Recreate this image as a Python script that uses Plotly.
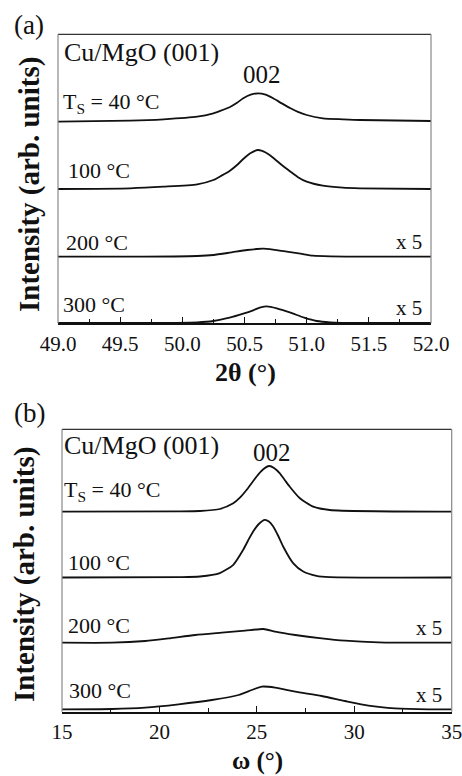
import plotly.graph_objects as go

W, H = 462, 776

# ---------------- data: panel (a) 2theta scans ----------------
a_labels = ["T<sub>S</sub> = 40 °C", "100 °C", "200 °C", "300 °C"]
a_offsets = [201.6, 134.3, 66.6, 0.3]
a_x40 = [49.0, 49.58, 49.85, 50.12, 50.25, 50.31, 50.38, 50.44, 50.49, 50.55, 50.61, 50.67, 50.73, 50.80, 50.87, 50.93, 51.00, 51.13, 51.29, 51.43, 52.0]
a_y40 = [0, 1.0, 2.4, 5.0, 8.4, 11.0, 14.5, 19.0, 23.4, 27.0, 28.4, 27.0, 23.4, 18.3, 13.4, 9.8, 6.7, 3.4, 2.4, 1.7, 0.7]
a_x100 = [49.0, 49.58, 49.85, 50.12, 50.25, 50.31, 50.38, 50.44, 50.49, 50.55, 50.61, 50.67, 50.73, 50.80, 50.87, 50.93, 51.00, 51.13, 51.29, 51.43, 52.0]
a_y100 = [0, 0.7, 2.3, 4.7, 9.0, 13.0, 18.0, 24.0, 30.0, 36.0, 39.0, 36.5, 31.3, 24.0, 17.3, 11.8, 7.3, 3.3, 1.3, 0.7, 0]
a_x200 = [49.0, 49.58, 50.12, 50.25, 50.38, 50.52, 50.60, 50.65, 50.73, 50.84, 50.95, 51.05, 51.19, 51.43, 52.0]
a_y200 = [0, 0, 0.7, 1.7, 4.0, 6.7, 7.7, 8.0, 7.0, 5.0, 3.0, 1.0, 0.3, 0, 0]
a_x300 = [49.0, 49.58, 50.12, 50.25, 50.38, 50.49, 50.57, 50.63, 50.68, 50.76, 50.87, 50.98, 51.08, 51.19, 51.43, 52.0]
a_y300 = [0, 0, 0.7, 2.0, 5.3, 9.3, 12.7, 15.7, 16.7, 14.7, 10.3, 5.3, 2.0, 0.7, 0, 0]
a_scale = ["", "", "x 5", "x 5"]

# ---------------- data: panel (b) omega scans ----------------
b_offsets = [200.0, 134.2, 69.0, 2.4]
b_x40 = [15, 21.05, 22.08, 23.10, 23.79, 24.13, 24.47, 24.98, 25.30, 25.63, 25.90, 26.18, 26.44, 26.69, 27.21, 27.89, 28.74, 35]
b_y40 = [0, 0.3, 0.7, 2.7, 8.4, 14.0, 21.7, 35.0, 42.0, 45.7, 43.5, 38.4, 31.5, 25.0, 13.4, 5.0, 1.7, 0]
b_x100 = [15, 21.05, 22.08, 23.10, 23.79, 24.30, 24.55, 24.81, 25.10, 25.41, 25.62, 25.84, 26.10, 26.35, 26.86, 27.38, 28.06, 28.74, 35]
b_y100 = [0, 0.4, 1.0, 4.4, 12.7, 27.7, 37.0, 46.0, 53.5, 57.7, 56.0, 51.0, 41.5, 31.0, 14.4, 6.0, 1.7, 0.4, 0]
b_x200 = [15, 17.56, 19.27, 20.47, 21.84, 23.2, 24.4, 25.34, 25.94, 26.97, 28.33, 29.53, 31.24, 32.95, 35]
b_y200 = [0, 0, 1.7, 4.3, 7.7, 10.0, 12.0, 13.7, 11.0, 7.7, 4.3, 2.0, 0.3, 0, 0]
b_x300 = [15, 17.56, 19.27, 20.98, 22.69, 24.06, 24.74, 25.26, 25.94, 26.97, 28.33, 29.53, 30.73, 32.09, 33.8, 35]
b_y300 = [0, 0.3, 1.7, 5.0, 9.3, 14.3, 19.3, 22.7, 21.7, 17.7, 13.3, 8.3, 3.7, 1.0, 0, 0]

a_ticks = [49.0, 49.5, 50.0, 50.5, 51.0, 51.5, 52.0]
b_ticks = [15, 20, 25, 30, 35]

SERIF = "Liberation Serif, Times New Roman, serif"


def px(x, y):
    return x / W, 1 - y / H


fig = go.Figure()

a_series = [(a_x40, a_y40), (a_x100, a_y100), (a_x200, a_y200), (a_x300, a_y300)]
for (xs, ys), off in zip(a_series, a_offsets):
    fig.add_trace(go.Scatter(x=xs, y=[v + off for v in ys], mode="lines",
                             line=dict(color="#111", width=1.8, shape="spline", smoothing=0.6),
                             xaxis="x", yaxis="y", showlegend=False, hoverinfo="skip"))

b_series = [(b_x40, b_y40), (b_x100, b_y100), (b_x200, b_y200), (b_x300, b_y300)]
for (xs, ys), off in zip(b_series, b_offsets):
    fig.add_trace(go.Scatter(x=xs, y=[v + off for v in ys], mode="lines",
                             line=dict(color="#111", width=1.8, shape="spline", smoothing=0.6),
                             xaxis="x2", yaxis="y2", showlegend=False, hoverinfo="skip"))

# domains from pixel frame
ax_l, ax_r, ax_t, ax_b = 58, 431, 34.3, 323.3
bx_l, bx_r, bx_t, bx_b = 62, 451.7, 429.3, 711.7

tickfont = dict(family=SERIF, size=21, color="#111")
common_x = dict(showgrid=False, zeroline=False, showline=True, linecolor="#111", linewidth=2,
                ticks="inside", ticklen=6, tickwidth=1.2, tickcolor="#111", tickfont=tickfont,
                automargin=False, ticklabeloverflow="allow",
                minor=dict(ticks="inside", ticklen=4, tickwidth=1, tickcolor="#111"))
common_y = dict(showgrid=False, zeroline=False, showline=False, showticklabels=False, ticks="",
                automargin=False)

fig.update_layout(
    width=W, height=H, margin=dict(l=0, r=0, t=0, b=0, pad=0), autosize=False,
    paper_bgcolor="white", plot_bgcolor="white",
    xaxis=dict(domain=[ax_l / W, ax_r / W], anchor="y", range=[49.0, 52.0],
               tickvals=a_ticks, ticktext=[f"{t:.1f}" for t in a_ticks],
               minor_dtick=0.25, **common_x),
    yaxis=dict(domain=[1 - ax_b / H, 1 - ax_t / H], anchor="x", range=[0, 289], **common_y),
    xaxis2=dict(domain=[bx_l / W, bx_r / W], anchor="y2", range=[15, 35],
                tickvals=b_ticks, ticktext=[str(t) for t in b_ticks],
                minor_dtick=2.5, **common_x),
    yaxis2=dict(domain=[1 - bx_b / H, 1 - bx_t / H], anchor="x2", range=[0, 282.4], **common_y),
)

# frames (top/left/right)
for xr, yr in (("x domain", "y domain"), ("x2 domain", "y2 domain")):
    fig.add_shape(type="line", xref=xr, yref=yr, x0=0, x1=1, y0=1, y1=1, line=dict(color="#333", width=1.2))
    fig.add_shape(type="line", xref=xr, yref=yr, x0=0, x1=0, y0=0, y1=1, line=dict(color="#888", width=1.2))
    fig.add_shape(type="line", xref=xr, yref=yr, x0=1, x1=1, y0=0, y1=1, line=dict(color="#888", width=1.2))


def txt(x, y, s, size, xanchor="left", bold=False, angle=0):
    X, Y = px(x, y)
    fig.add_annotation(x=X, y=Y, xref="paper", yref="paper", text=s, showarrow=False,
                       xanchor=xanchor, yanchor="middle", textangle=angle,
                       font=dict(family=SERIF, size=size, color="#111",
                                 weight="bold" if bold else "normal"))


# panel (a) texts
txt(12, 25, "(a)", 27)
txt(62, 53, "Cu/MgO (001)", 26)
txt(262, 75, "002", 25, xanchor="center")
a_label_pos = [(61, 103), (66, 170), (64, 242), (61, 305)]
for (x, y), s in zip(a_label_pos, a_labels):
    txt(x, y, s, 22)
for y, s in zip([242, 308], a_scale[2:]):
    txt(424, y, s, 21, xanchor="right")
txt(29, 185, "Intensity (arb. units)", 29, xanchor="center", bold=True, angle=-90)
txt(245, 372, "2θ (°)", 26, xanchor="center", bold=True)

# panel (b) texts
txt(12, 413, "(b)", 27)
txt(62, 446, "Cu/MgO (001)", 26)
txt(272, 452, "002", 25, xanchor="center")
b_label_pos = [(62, 491), (66, 562), (66, 625), (67, 690)]
for (x, y), s in zip(b_label_pos, a_labels):
    txt(x, y, s, 22)
for y, s in zip([628, 695], a_scale[2:]):
    txt(444, y, s, 21, xanchor="right")
txt(24, 575, "Intensity (arb. units)", 29, xanchor="center", bold=True, angle=-90)
txt(257, 761, "ω (°)", 25, xanchor="center", bold=True)

fig.write_html("out.html", config={"displayModeBar": False},
               post_script="document.body.style.margin='0';document.body.style.overflow='hidden';")
